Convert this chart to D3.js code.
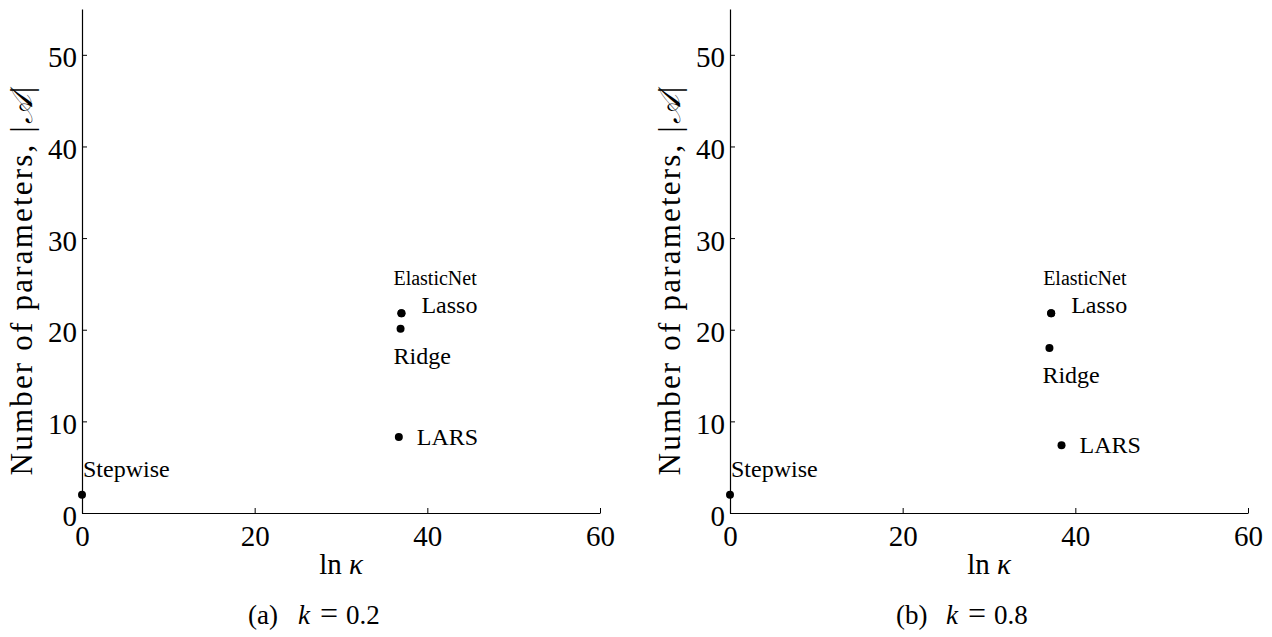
<!DOCTYPE html>
<html>
<head>
<meta charset="utf-8">
<script src="https://cdn.jsdelivr.net/npm/d3@7"></script>
<style>
  html, body { margin: 0; padding: 0; background: #fff; }
  svg { display: block; }
  text { font-family: "Liberation Serif", "DejaVu Serif", serif; fill: #000; }
</style>
</head>
<body>
<svg id="chart" width="1272" height="637"></svg>
<script>
// Axis ticks shared by both panels
const xTicks = [0, 20, 40, 60];
const yTicks = [0, 10, 20, 30, 40, 50];
const xDomain = [0, 60];
const yDomain = [0, 55];

// Regression methods shown in each panel
const methods = ["Stepwise", "ElasticNet", "Lasso", "Ridge", "LARS"];

// (a) k = 0.2 : ln(kappa) and number of selected parameters
const lnKappaA = [0, 37.0, 37.0, 36.9, 36.7];
const paramsA  = [2, 21.8, 21.8, 20.1, 8.3];

// (b) k = 0.8
const lnKappaB = [0, 37.2, 37.2, 37.0, 38.4];
const paramsB  = [2, 21.8, 21.8, 18.0, 7.4];

const panels = [
  { tag: "(a)", k: "0.2", x: lnKappaA, y: paramsA, left: 82 },
  { tag: "(b)", k: "0.8", x: lnKappaB, y: paramsB, left: 730 }
];

// label placement relative to each point (text start, baseline) and size
const labelStyle = {
  Stepwise:   { dx: 1,  dy: -18, size: 24 },
  ElasticNet: { dx: -8, dy: -28, size: 20 },
  Lasso:      { dx: 20, dy: 0,   size: 24 },
  Ridge:      { dx: -7, dy: 35,  size: 24 },
  LARS:       { dx: 18, dy: 8,   size: 24 }
};

const svg = d3.select("#chart");
const plotW = 518, plotTop = 9, plotBottom = 513;

panels.forEach(p => {
  const x = d3.scaleLinear().domain(xDomain).range([p.left, p.left + plotW]);
  const y = d3.scaleLinear().domain(yDomain).range([plotBottom, plotTop]);
  const g = svg.append("g");

  // x axis (ticks pointing inward)
  const xAxis = g.append("g")
    .attr("transform", `translate(0,${plotBottom})`)
    .call(d3.axisBottom(x).tickValues(xTicks).tickSizeInner(-5).tickSizeOuter(0).tickPadding(0).tickFormat(d3.format("d")));
  xAxis.select(".domain").attr("stroke", "#000").attr("stroke-width", 1.2);
  xAxis.selectAll(".tick line").attr("stroke", "#000");
  xAxis.selectAll(".tick text")
    .attr("y", 33).attr("dy", 0)
    .style("font-size", "29px");

  // y axis
  const yAxis = g.append("g")
    .attr("transform", `translate(${p.left},0)`)
    .call(d3.axisLeft(y).tickValues(yTicks).tickSizeInner(-5).tickSizeOuter(0).tickPadding(0).tickFormat(d3.format("d")));
  yAxis.select(".domain").attr("stroke", "#000").attr("stroke-width", 1.2);
  yAxis.selectAll(".tick line").attr("stroke", "#000");
  yAxis.selectAll(".tick text")
    .attr("x", -5).attr("dy", 12)
    .style("font-size", "29px");

  // axis titles
  const xt = g.append("text")
    .attr("x", p.left + plotW / 2).attr("y", 574)
    .attr("text-anchor", "middle").style("font-size", "29px");
  xt.append("tspan").text("ln ");
  xt.append("tspan").style("font-style", "italic").text("κ");

  const yt = g.append("text")
    .attr("transform", `translate(${p.left - 50},280) rotate(-90)`)
    .attr("text-anchor", "middle")
    .style("font-size", "31px").style("letter-spacing", "2.2px");
  yt.append("tspan").text("Number of parameters, |");
  yt.append("tspan").style("font-style", "italic").style("font-family", "DejaVu Serif, Liberation Serif, serif").text("𝒜");
  yt.append("tspan").text("|");

  // points and method labels
  methods.forEach((m, i) => {
    const cx = x(p.x[i]), cy = y(p.y[i]);
    g.append("circle").attr("cx", cx).attr("cy", cy).attr("r", 4).attr("fill", "#000");
    const s = labelStyle[m];
    g.append("text").attr("x", cx + s.dx).attr("y", cy + s.dy)
      .style("font-size", s.size + "px").text(m);
  });

  // sub-caption, laid out piece by piece
  const cx0 = p.left + 166;
  const cap = g.append("text").attr("y", 624).style("font-size", "27px");
  cap.append("tspan").attr("x", cx0).text(p.tag);
  cap.append("tspan").attr("x", cx0 + 50).style("font-style", "italic").text("k");
  cap.append("tspan").attr("x", cx0 + 72).style("font-size", "32px").text("=");
  cap.append("tspan").attr("x", cx0 + 98).text(p.k);
});
</script>
</body>
</html>
